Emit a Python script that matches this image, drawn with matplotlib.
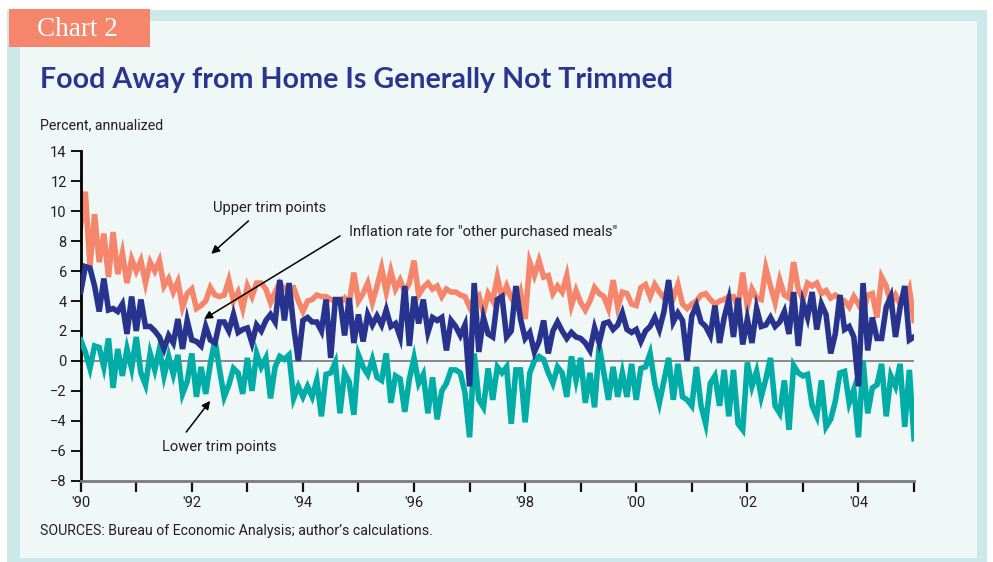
import numpy as np
import matplotlib
matplotlib.use("Agg")
import matplotlib.pyplot as plt
from matplotlib.patches import Rectangle

# ---------------- data (monthly, Jan 1990 .. Jan 2005) ----------------
upper_trim = [
    9.0, 11.3, 6.3, 9.8, 6.6, 8.5, 5.6, 8.6, 5.8, 7.2, 5.2, 6.8,
    6.0, 6.7, 5.2, 6.6, 6.0, 6.7, 5.0, 5.5, 4.6, 5.3, 3.6, 4.5,
    4.8, 3.5, 3.7, 4.0, 4.9, 4.4, 4.3, 4.4, 5.4, 4.0, 4.6, 3.5,
    5.0, 4.3, 5.2, 5.2, 4.8, 3.9, 4.6, 5.2, 4.8, 4.9, 4.9, 4.0,
    3.3, 4.0, 4.1, 4.4, 4.3, 4.3, 4.1, 4.0, 3.9, 4.2, 3.8, 5.9,
    4.0, 4.5, 5.2, 3.9, 5.0, 6.2, 4.6, 6.0, 4.8, 5.4, 4.6, 5.2,
    6.7, 4.4, 4.9, 5.2, 4.8, 5.0, 4.3, 4.8, 4.6, 4.6, 4.4, 4.3,
    3.6, 4.2, 4.4, 3.2, 4.5, 4.0, 5.6, 4.2, 5.0, 4.2, 3.7, 4.6,
    2.8, 6.6, 5.7, 6.7, 5.6, 5.7, 4.5, 5.0, 4.6, 5.7, 3.7, 4.7,
    3.9, 3.4, 4.0, 4.9, 4.5, 4.3, 3.5, 5.4, 3.6, 4.6, 4.5, 3.8,
    3.7, 4.9, 5.1, 4.3, 5.1, 4.6, 4.2, 5.0, 4.2, 5.1, 3.8, 3.5,
    3.8, 4.0, 4.4, 4.5, 4.1, 3.8, 4.0, 4.1, 4.3, 4.3, 3.6, 5.9,
    3.6, 4.8, 4.2, 4.1, 6.2, 5.0, 3.9, 5.4, 4.4, 4.2, 6.6, 4.8,
    4.1, 5.2, 5.0, 5.2, 4.5, 4.7, 4.2, 4.4, 4.2, 4.0, 3.6, 4.3,
    3.8, 3.2, 4.4, 4.5, 2.9, 5.6, 5.0, 3.8, 4.4, 3.8, 4.0, 4.8,
    2.7,
]

inflation = [
    4.6, 6.3, 6.2, 5.0, 3.3, 5.5, 3.4, 3.5, 3.3, 3.8, 1.8, 4.3,
    2.0, 4.1, 2.3, 2.3, 2.0, 1.6, 0.8, 1.7, 1.2, 2.8, 0.8, 2.7,
    1.4, 1.3, 1.0, 2.3, 1.4, 1.2, 2.6, 2.6, 2.0, 3.1, 1.9, 2.1,
    2.2, 1.2, 2.4, 2.0, 2.7, 3.1, 2.6, 5.4, 2.7, 5.2, 2.3, 0.0,
    2.7, 2.9, 2.6, 2.6, 2.0, 4.1, 0.2, 4.1, 4.1, 1.7, 4.2, 1.2,
    3.1, 1.3, 3.1, 2.4, 3.0, 2.4, 3.4, 2.3, 2.5, 1.6, 5.0, 1.0,
    4.3, 2.5, 4.1, 1.9, 2.9, 2.7, 2.9, 0.7, 2.7, 2.3, 1.7, 2.4,
    -1.7, 5.2, 0.6, 2.9, 1.8, 1.6, 4.1, 4.3, 1.6, 2.0, 5.0, 2.8,
    1.5, 1.9, 0.6, 1.3, 2.7, 0.5, 2.0, 2.6, 2.0, 1.5, 1.9, 1.6,
    1.5, 1.2, 0.7, 2.2, 1.2, 2.5, 2.6, 2.1, 2.4, 3.2, 2.1, 1.9,
    2.1, 1.3, 2.0, 2.3, 2.9, 2.1, 3.3, 5.4, 2.6, 3.2, 2.7, 0.0,
    3.0, 3.7, 2.6, 2.3, 1.7, 3.7, 1.2, 2.9, 4.1, 1.6, 4.2, 1.1,
    2.8, 1.2, 3.5, 2.3, 2.4, 2.9, 2.3, 2.6, 3.3, 1.8, 4.6, 1.0,
    3.9, 2.9, 4.6, 2.1, 3.8, 3.1, 0.5, 1.8, 4.4, 2.1, 2.3, 1.6,
    -1.7, 5.2, 0.7, 2.9, 1.5, 1.5, 3.6, 4.3, 1.6, 3.6, 5.0, 1.4,
    1.6,
]

lower_trim = [
    1.4, 0.6, -0.5, 1.0, 0.9, -0.4, 1.5, -1.8, 0.8, -1.0, 0.8, -0.5,
    1.6, -0.8, -1.6, 0.5, -0.6, 0.8, -1.0, 0.3, -0.9, 0.4, -2.2, -1.4,
    0.5, -2.4, -0.4, -2.2, -0.2, 1.4, -0.6, -2.4, -1.6, -0.5, -0.8, -2.2,
    0.2, -2.0, 0.5, -0.4, 0.2, -2.5, -0.4, 0.3, 0.1, 0.4, -2.5, -1.7,
    -2.4, -1.7, -2.4, -1.3, -3.7, -0.9, -0.8, -0.1, -3.5, -0.8, -1.4, -3.6,
    0.4, -0.4, -0.9, 0.1, -1.1, -1.3, 0.5, -2.8, -1.0, -1.2, -3.4, -1.2,
    0.2, -1.5, -0.9, -3.5, -1.1, -3.9, -2.0, -1.5, -0.6, -0.6, -0.8, -2.1,
    -5.1, 0.5, -2.6, -3.1, -0.5, -2.6, -0.4, -0.8, -0.4, -4.2, -0.6, -0.6,
    -4.1, -0.8, 0.0, 0.3, 0.1, -0.8, -1.5, -0.4, -0.8, -2.4, 0.3, -1.3,
    0.2, -2.8, -0.8, -3.1, 1.0, -0.8, -2.6, -0.4, -2.4, -0.8, -2.4, -0.2,
    -2.6, -0.5, -0.4, 0.5, -1.5, -2.8, -1.3, 0.2, -2.6, -0.2, -2.4, -2.6,
    -3.0, -0.4, -3.0, -4.2, -1.5, -1.0, -3.0, -0.6, -3.7, -0.6, -4.2, -4.6,
    -0.1, -1.7, -0.7, -2.4, -1.2, 0.2, -3.0, -3.5, -1.3, -4.6, -0.3, -0.8,
    -1.0, -0.9, -3.0, -3.7, -1.3, -4.4, -3.9, -2.7, -0.8, -0.7, -2.8, -1.9,
    -5.1, 0.0, -3.5, -1.8, -1.6, -0.2, -3.7, -1.0, -1.7, -0.2, -4.4, -0.6,
    -5.2,
]

start_year = 1990
years = start_year + np.arange(len(inflation)) / 12.0

y_ticks = [14, 12, 10, 8, 6, 4, 2, 0, -2, -4, -6, -8]
x_all_years = list(range(1990, 2006))
x_labels_years = [1990, 1992, 1994, 1996, 1998, 2000, 2002, 2004]
x_labels = ["'90", "'92", "'94", "'96", "'98", "'00", "'02", "'04"]

# ---------------- styling ----------------
SALMON = "#f5866c"
NAVY = "#27338c"
TEAL = "#00ada6"
TITLE_BLUE = "#2a3590"
BORDER = "#cde8e8"
PANEL = "#f0f8f7"
TXT = "#231f20"
NARROW = ["Liberation Sans Narrow", "Roboto", "DejaVu Sans"]

W, H = 993, 562
fig = plt.figure(figsize=(W / 100, H / 100), dpi=100)
fig.patch.set_facecolor("white")

def px_rect(x0, y0, x1, y1, color, z):
    fig.patches.append(Rectangle((x0 / W, 1 - y1 / H), (x1 - x0) / W, (y1 - y0) / H,
                                 transform=fig.transFigure, facecolor=color,
                                 edgecolor="none", zorder=z))

px_rect(7, 10, 987, 562, BORDER, 0)
px_rect(20, 21, 977, 558, PANEL, 1)
px_rect(9, 9, 150, 47, "#f5866c", 2)

fig.text(37 / W, 1 - 29 / H, "Chart 2", color="white", fontsize=19.5,
         family="Liberation Serif", ha="left", va="center", zorder=3)
fig.text(40 / W, 1 - 80 / H, "Food Away from Home Is Generally Not Trimmed",
         color=TITLE_BLUE, fontsize=20.6, fontweight="bold", family="Lato",
         ha="left", va="center", zorder=3)
fig.text(40 / W, 1 - 125 / H, "Percent, annualized", color=TXT, fontsize=10.2,
         family=NARROW, ha="left", va="center", zorder=3)
fig.text(40 / W, 1 - 531 / H, "SOURCES: Bureau of Economic Analysis; author\u2019s calculations.",
         color=TXT, fontsize=10.2, family=NARROW, ha="left", va="center", zorder=3)

left, right = 80.7, 914.0
top, bottom = 151.3, 480.7
ax = fig.add_axes([left / W, 1 - bottom / H, (right - left) / W, (bottom - top) / H])
ax.set_zorder(4)
ax.patch.set_alpha(0)

ax.axhline(0, color="#8a8a8a", lw=1.4, zorder=1)
ax.plot(years, upper_trim, color=SALMON, lw=4.0, solid_joinstyle="miter", zorder=2)
ax.plot(years, lower_trim, color=TEAL, lw=4.0, solid_joinstyle="miter", zorder=3)
ax.plot(years, inflation, color=NAVY, lw=4.0, solid_joinstyle="miter", zorder=4)

ax.set_xlim(1990, 2005)
ax.set_ylim(-8, 14)
ax.set_yticks(y_ticks)
ax.set_yticklabels([str(v).replace("-", "\u2212") for v in y_ticks],
                   family=NARROW, fontsize=10.5, color=TXT)
ax.set_xticks(x_labels_years)
ax.set_xticklabels(x_labels, family=NARROW, fontsize=10.5, color=TXT)
ax.set_xticks(x_all_years, minor=True)
ax.tick_params(axis="x", which="both", direction="out", length=8, width=1.6,
               color="#111111", pad=3)
ax.tick_params(axis="y", direction="out", length=7, width=1.4, color="#111111", pad=3)

for s in ["top", "right"]:
    ax.spines[s].set_visible(False)
ax.spines["left"].set_color("#000000")
ax.spines["left"].set_linewidth(2.0)
ax.spines["bottom"].set_color("#7a7a7a")
ax.spines["bottom"].set_linewidth(2.0)

arrow = dict(arrowstyle="-|>", color="black", lw=1.1, mutation_scale=12, shrinkA=0, shrinkB=0)
ax.text(1992.38, 10.2, "Upper trim points", family=NARROW, fontsize=10.6, color=TXT,
        ha="left", va="center")
ax.annotate("", xy=(1992.35, 7.15), xytext=(1993.02, 9.35), arrowprops=arrow)
ax.text(1994.83, 8.6, "Inflation rate for \"other purchased meals\"", family=NARROW,
        fontsize=10.6, color=TXT, ha="left", va="center")
ax.annotate("", xy=(1992.22, 2.8), xytext=(1994.67, 8.35), arrowprops=arrow)
ax.text(1991.46, -5.75, "Lower trim points", family=NARROW, fontsize=10.6, color=TXT,
        ha="left", va="center")
ax.annotate("", xy=(1992.33, -2.67), xytext=(1991.9, -4.75), arrowprops=arrow)

fig.savefig("out.png", dpi=100, facecolor=fig.get_facecolor())
